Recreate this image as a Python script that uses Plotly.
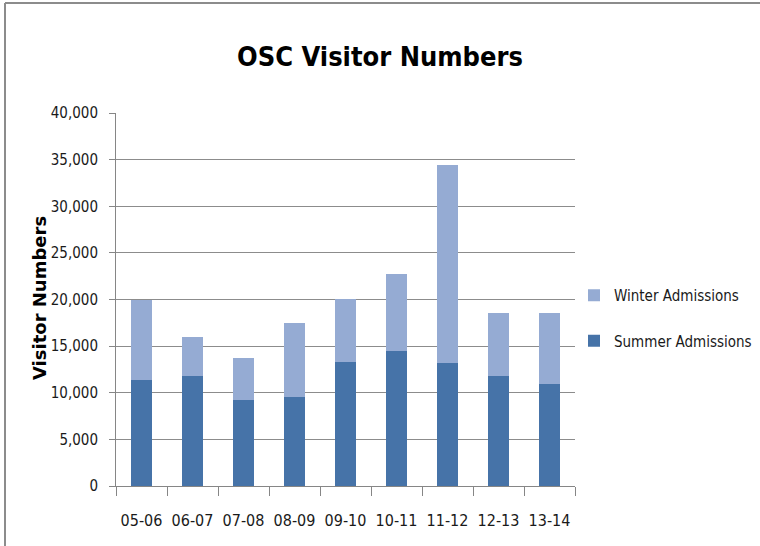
import plotly.graph_objects as go

seasons = ["05-06", "06-07", "07-08", "08-09", "09-10", "10-11", "11-12", "12-13", "13-14"]
summer = [11400, 11800, 9200, 9500, 13300, 14500, 13200, 11800, 10900]
totals = [20000, 16000, 13700, 17450, 20100, 22750, 34400, 18600, 18600]
winter = [t - s for t, s in zip(totals, summer)]

FONT = "DejaVu Sans Condensed, Liberation Sans Narrow, sans-serif"

fig = go.Figure()
fig.add_trace(go.Bar(x=seasons, y=summer, name="Summer Admissions",
                     marker=dict(color="#4673A8", line=dict(width=0)),
                     legendgroup="s", legendrank=2))
fig.add_trace(go.Bar(x=seasons, y=winter, name="Winter Admissions",
                     marker=dict(color="#95ABD3", line=dict(width=0)),
                     legendgroup="w", legendrank=1))

fig.update_layout(
    width=760, height=546,
    barmode="stack", bargap=0.6,
    paper_bgcolor="white", plot_bgcolor="white",
    margin=dict(l=116, r=185, t=113, b=60, autoexpand=False),
    title=dict(text="<b>OSC Visitor Numbers</b>", x=0.5, xref="container", xanchor="center",
               y=1 - 57 / 546, yanchor="middle",
               font=dict(family=FONT, size=27, color="black")),
    font=dict(family=FONT, size=15, color="#1a1a1a"),
    legend=dict(traceorder="grouped", x=(574 - 116) / 459, xanchor="left",
                y=(486 - 318) / 373, yanchor="middle",
                font=dict(family=FONT, size=15, color="#1a1a1a"), tracegroupgap=23,
                itemwidth=30, bgcolor="rgba(0,0,0,0)"),
    showlegend=True,
)
fig.update_xaxes(type="category", showline=True, linecolor="#868686", linewidth=1,
                 ticks="outside", tickson="boundaries", ticklen=9, tickcolor="#868686",
                 showgrid=False, tickangle=0, automargin=False, ticklabelstandoff=20,
                 tickfont=dict(family=FONT, size=16, color="#1a1a1a"))
fig.update_yaxes(range=[0, 40000], dtick=5000, tickformat=",", showline=True,
                 linecolor="#868686", linewidth=1, ticks="outside", ticklen=6,
                 tickcolor="#868686", showgrid=True, gridcolor="#8C8C8C", gridwidth=1,
                 zeroline=False, automargin=False, ticklabelstandoff=8,
                 tickfont=dict(family=FONT, size=15, color="#1a1a1a"))

fig.add_annotation(text="<b>Visitor Numbers</b>", textangle=-90, xref="paper", yref="paper",
                   x=(39 - 116) / 459, xanchor="center", y=(486 - 298) / 373, yanchor="middle",
                   showarrow=False,
                   font=dict(family="DejaVu Sans, sans-serif", size=18, color="black"))

# chart border (left and top edges visible)
px0 = (5 - 116) / 459
py_top = (486 - 3) / 373
py_bot = (486 - 560) / 373
px_right = (770 - 116) / 459
fig.add_shape(type="line", xref="paper", yref="paper", x0=px0, x1=px0, y0=py_bot, y1=py_top,
              line=dict(color="#8C8C8C", width=2))
fig.add_shape(type="line", xref="paper", yref="paper", x0=px0, x1=px_right, y0=py_top, y1=py_top,
              line=dict(color="#8C8C8C", width=2))

fig.write_html("out.html", config={"displayModeBar": False},
               post_script="document.body.style.margin='0';")
